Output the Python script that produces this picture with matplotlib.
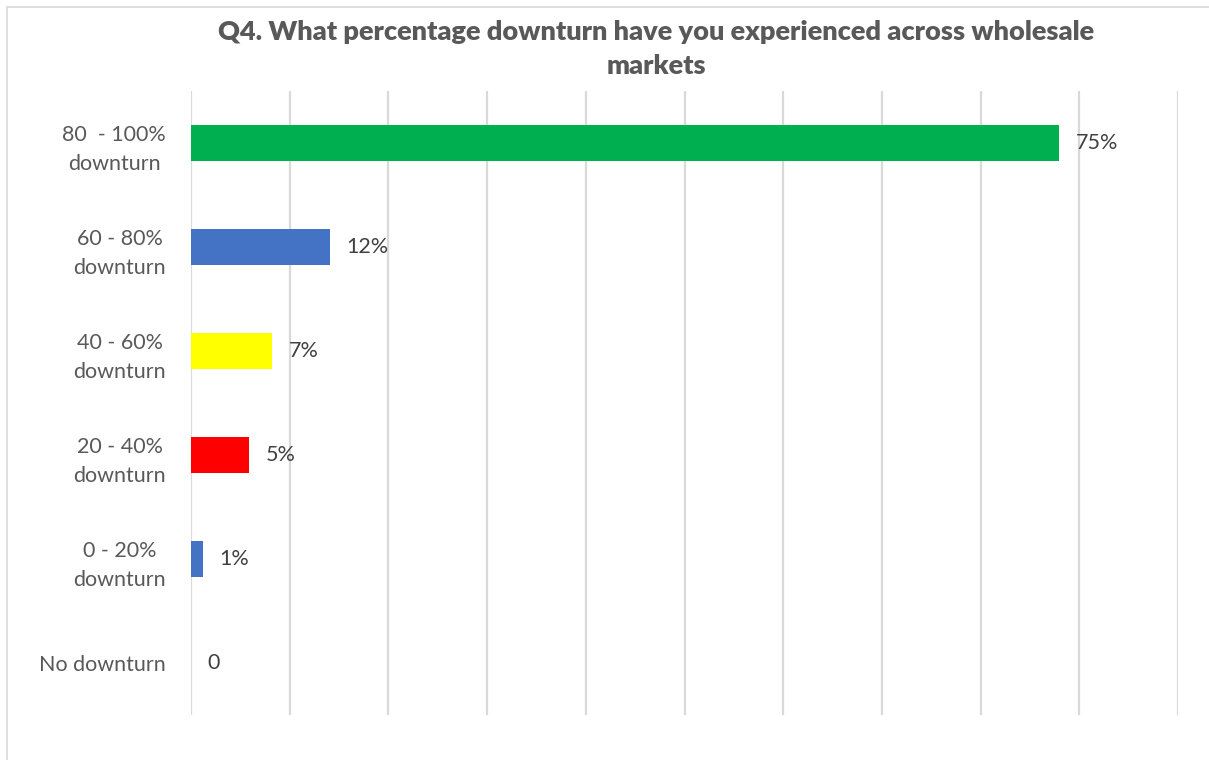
import numpy as np
import matplotlib.pyplot as plt
from matplotlib.patches import Rectangle

plt.rcParams['font.family'] = ['Lato', 'DejaVu Sans']

categories = ['80  - 100%\ndownturn', '60 - 80%\ndownturn', '40 - 60%\ndownturn',
              '20 - 40%\ndownturn', '0 - 20%\ndownturn', 'No downturn']
values = [0.75, 0.12, 0.07, 0.05, 0.01, 0.0]
colors = ['#00B050', '#4472C4', '#FFFF00', '#FF0000', '#4472C4', '#4472C4']
title = 'Q4. What percentage downturn have you experienced across wholesale\nmarkets'

W, H = 1209, 760
fig = plt.figure(figsize=(W / 100, H / 100), dpi=100)
ax = fig.add_axes([191 / W, 1 - 715 / H, (1178 - 191) / W, (715 - 91) / H])

# chart frame (runs off the right and bottom edge)
fig.patches.append(Rectangle((7 / W, -0.1), 1.2, 1.1 - 7 / H, transform=fig.transFigure,
                             fill=False, edgecolor='#d9d9d9', linewidth=1.2))

y = np.arange(len(categories))
ax.barh(y, values, height=0.355, color=colors, zorder=3)

xmax = 0.853
ax.set_xlim(0, xmax)
ax.set_ylim(len(categories) - 0.5, -0.5)
ax.set_xticks(np.linspace(0, xmax, 11))
ax.tick_params(axis='x', length=0, labelbottom=False)
ax.grid(axis='x', color='#d9d9d9', linewidth=1.6, zorder=0)
for s in ax.spines.values():
    s.set_visible(False)

ax.set_yticks(y)
ax.set_yticklabels(categories, fontsize=15.5, color='#595959', multialignment='center',
                   linespacing=1.55)
ax.tick_params(axis='y', length=0, pad=18)

for yi, v in zip(y, values):
    label = f'{v:.0%}' if v else '0'
    ax.annotate(label, (v, yi), xytext=(12, 0), textcoords='offset points',
                va='center', ha='left', fontsize=15.5, color='#404040')

fig.text(656 / W, 1 - 49 / H, title, ha='center', va='center', fontsize=19.5,
         fontweight='heavy', color='#595959', linespacing=1.45)

fig.savefig('out.png', dpi=100)
